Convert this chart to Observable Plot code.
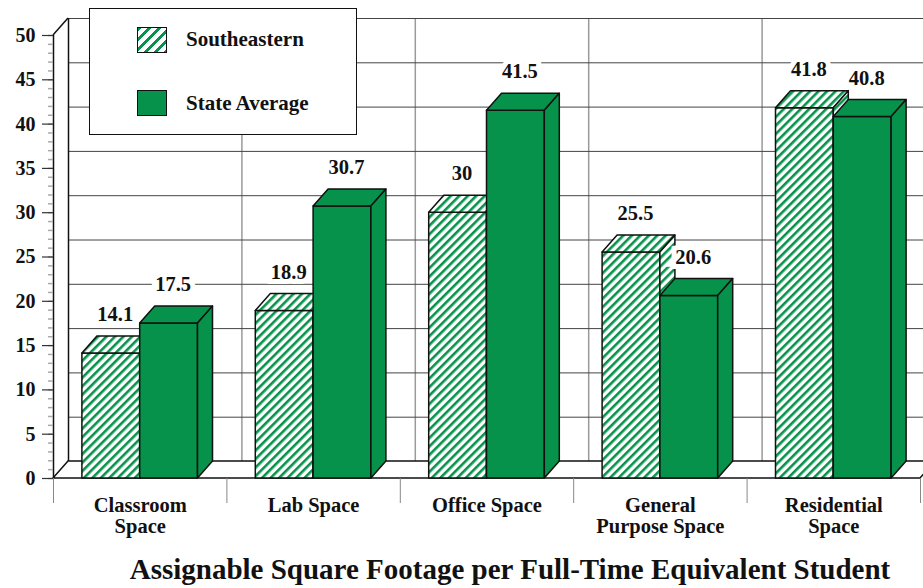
<!DOCTYPE html>
<html><head><meta charset="utf-8">
<script src="https://cdn.jsdelivr.net/npm/d3@7"></script>
<script src="https://cdn.jsdelivr.net/npm/@observablehq/plot@0.6"></script>
<style>
body{margin:0;background:#fff;}
#wrap{position:relative;width:923px;height:588px;overflow:hidden;font-family:"Liberation Serif",serif;font-weight:bold;color:#111;}
#legend{position:absolute;left:89px;top:8px;width:266px;height:125px;border:1.5px solid #111;background:#fff;}
.sw{position:absolute;left:47px;width:28px;height:24px;border:1.5px solid #111;}
.lt{position:absolute;left:96px;font-size:21px;line-height:21px;white-space:nowrap;}
#title{position:absolute;top:555px;left:510px;transform:translateX(-50%);font-size:29px;line-height:29px;white-space:nowrap;}
</style></head><body>
<div id="wrap"><div id="chart"></div><div id="legend"></div><div id="title"></div></div>
<script>
const categories = ["Classroom\nSpace", "Lab Space", "Office Space", "General\nPurpose Space", "Residential\nSpace"];
const seriesNames = ["Southeastern", "State Average"];
const southeastern = [14.1, 18.9, 30, 25.5, 41.8];
const stateAverage = [17.5, 30.7, 41.5, 20.6, 40.8];
const yTicks = [0, 5, 10, 15, 20, 25, 30, 35, 40, 45, 50];
const titleText = "Assignable Square Footage per Full-Time Equivalent Student";

const GREEN = "#06924a";
const DX = 15, DY = 17;
const FONT = "Liberation Serif, serif";

const rows = [];
categories.forEach((c, i) => {
  rows.push({cat: i, series: seriesNames[0], value: southeastern[i], x1: i + 1/6, x2: i + 0.5});
  rows.push({cat: i, series: seriesNames[1], value: stateAverage[i], x1: i + 0.5, x2: i + 5/6});
});

function frame3d(index, scales) {
  const {x, y} = scales;
  const g = d3.create("svg:g");
  const x0 = x(0), x5 = x(5), y0 = y(0), y50 = y(50);
  g.append("polygon")
    .attr("points", [[x0, y0], [x5, y0], [x5 + DX, y0 - DY], [x0 + DX, y0 - DY]].map(p => p.join(",")).join(" "))
    .attr("fill", "#fff").attr("stroke", "#111").attr("stroke-width", 1.5);
  g.append("line").attr("x1", x0).attr("y1", y50).attr("x2", x0 + DX).attr("y2", y50 - DY)
    .attr("stroke", "#111").attr("stroke-width", 1.5);
  return g.node();
}

function bars3d(index, scales) {
  const {x, y} = scales;
  const g = d3.create("svg:g");
  const pat = g.append("defs").append("pattern").attr("id", "hatch")
    .attr("patternUnits", "userSpaceOnUse").attr("width", 6).attr("height", 6)
    .attr("patternTransform", "rotate(45)");
  pat.append("rect").attr("width", 6).attr("height", 6).attr("fill", "#fff");
  pat.append("rect").attr("width", 2.6).attr("height", 6).attr("fill", GREEN);
  const pts = a => a.map(p => p.join(",")).join(" ");
  for (const r of rows) {
    const xl = x(r.x1), xr = x(r.x2), yt = y(r.value), yb = y(0);
    const fill = r.series === seriesNames[0] ? "url(#hatch)" : GREEN;
    const faces = [
      [[xl, yt], [xr, yt], [xr, yb], [xl, yb]],
      [[xl, yt], [xr, yt], [xr + DX, yt - DY], [xl + DX, yt - DY]],
      [[xr, yt], [xr + DX, yt - DY], [xr + DX, yb - DY], [xr, yb]]
    ];
    for (const f of faces) {
      g.append("polygon").attr("points", pts(f)).attr("fill", fill)
        .attr("stroke", "#111").attr("stroke-width", 1.5).attr("stroke-linejoin", "round");
    }
  }
  return g.node();
}

const chart = Plot.plot({
  width: 923,
  height: 545,
  marginTop: 35,
  marginBottom: 67,
  marginLeft: 53,
  marginRight: 3,
  style: {fontFamily: FONT, background: "#fff", color: "#111"},
  x: {type: "linear", domain: [0, 5]},
  y: {domain: [0, 50]},
  marks: [
    Plot.ruleX([1, 2, 3, 4, 5], {y1: 0, y2: 50, dx: DX, dy: -DY, stroke: "#9a9a9a", strokeWidth: 1.5}),
    Plot.ruleY(yTicks.filter(d => d > 0), {dx: DX, dy: -DY, stroke: "#444", strokeWidth: 1}),
    Plot.ruleX([0], {y1: 0, y2: 50, dx: DX, dy: -DY, stroke: "#111", strokeWidth: 1.5}),
    frame3d,
    Plot.ruleX([0], {y1: 0, y2: 50, stroke: "#111", strokeWidth: 1.5}),
    Plot.axisY({ticks: d3.range(0, 51), tickSize: 5, tickFormat: () => "", stroke: "#aaa", strokeWidth: 1.5, label: null}),
    Plot.axisY({ticks: yTicks, tickSize: 11, tickPadding: 7, fontSize: 20, fontWeight: "bold", fontFamily: FONT, stroke: "#333", strokeWidth: 1.2, label: null}),
    Plot.axisX({ticks: [0, 1, 2, 3, 4, 5], tickSize: 25, tickFormat: () => "", stroke: "#888", label: null}),
    Plot.text(categories, {x: (d, i) => i + 0.5, y: () => 0, text: d => d, dy: 18, lineAnchor: "top", lineHeight: 1.05, fontSize: 20.5, fontWeight: "bold", fontFamily: FONT, fill: "#111"}),
    bars3d,
    Plot.text(rows, {x: d => (d.x1 + d.x2) / 2, y: "value", text: d => String(d.value), dx: 4, dy: -39, fontSize: 20.5, fontWeight: "bold", fontFamily: FONT, fill: "#111", stroke: "#fff", strokeWidth: 10, strokeLinejoin: "miter", paintOrder: "stroke"})
  ]
});
document.getElementById("chart").appendChild(chart);

const legend = document.getElementById("legend");
seriesNames.forEach((s, i) => {
  const sw = document.createElement("div");
  sw.className = "sw";
  sw.style.top = (i === 0 ? 18 : 81) + "px";
  sw.style.background = i === 0 ? `repeating-linear-gradient(135deg, ${GREEN} 0 2.8px, #fff 2.8px 7px)` : GREEN;
  legend.appendChild(sw);
  const t = document.createElement("div");
  t.className = "lt";
  t.style.top = (i === 0 ? 19.5 : 83.5) + "px";
  t.textContent = s;
  legend.appendChild(t);
});
document.getElementById("title").textContent = titleText;
</script></body></html>
